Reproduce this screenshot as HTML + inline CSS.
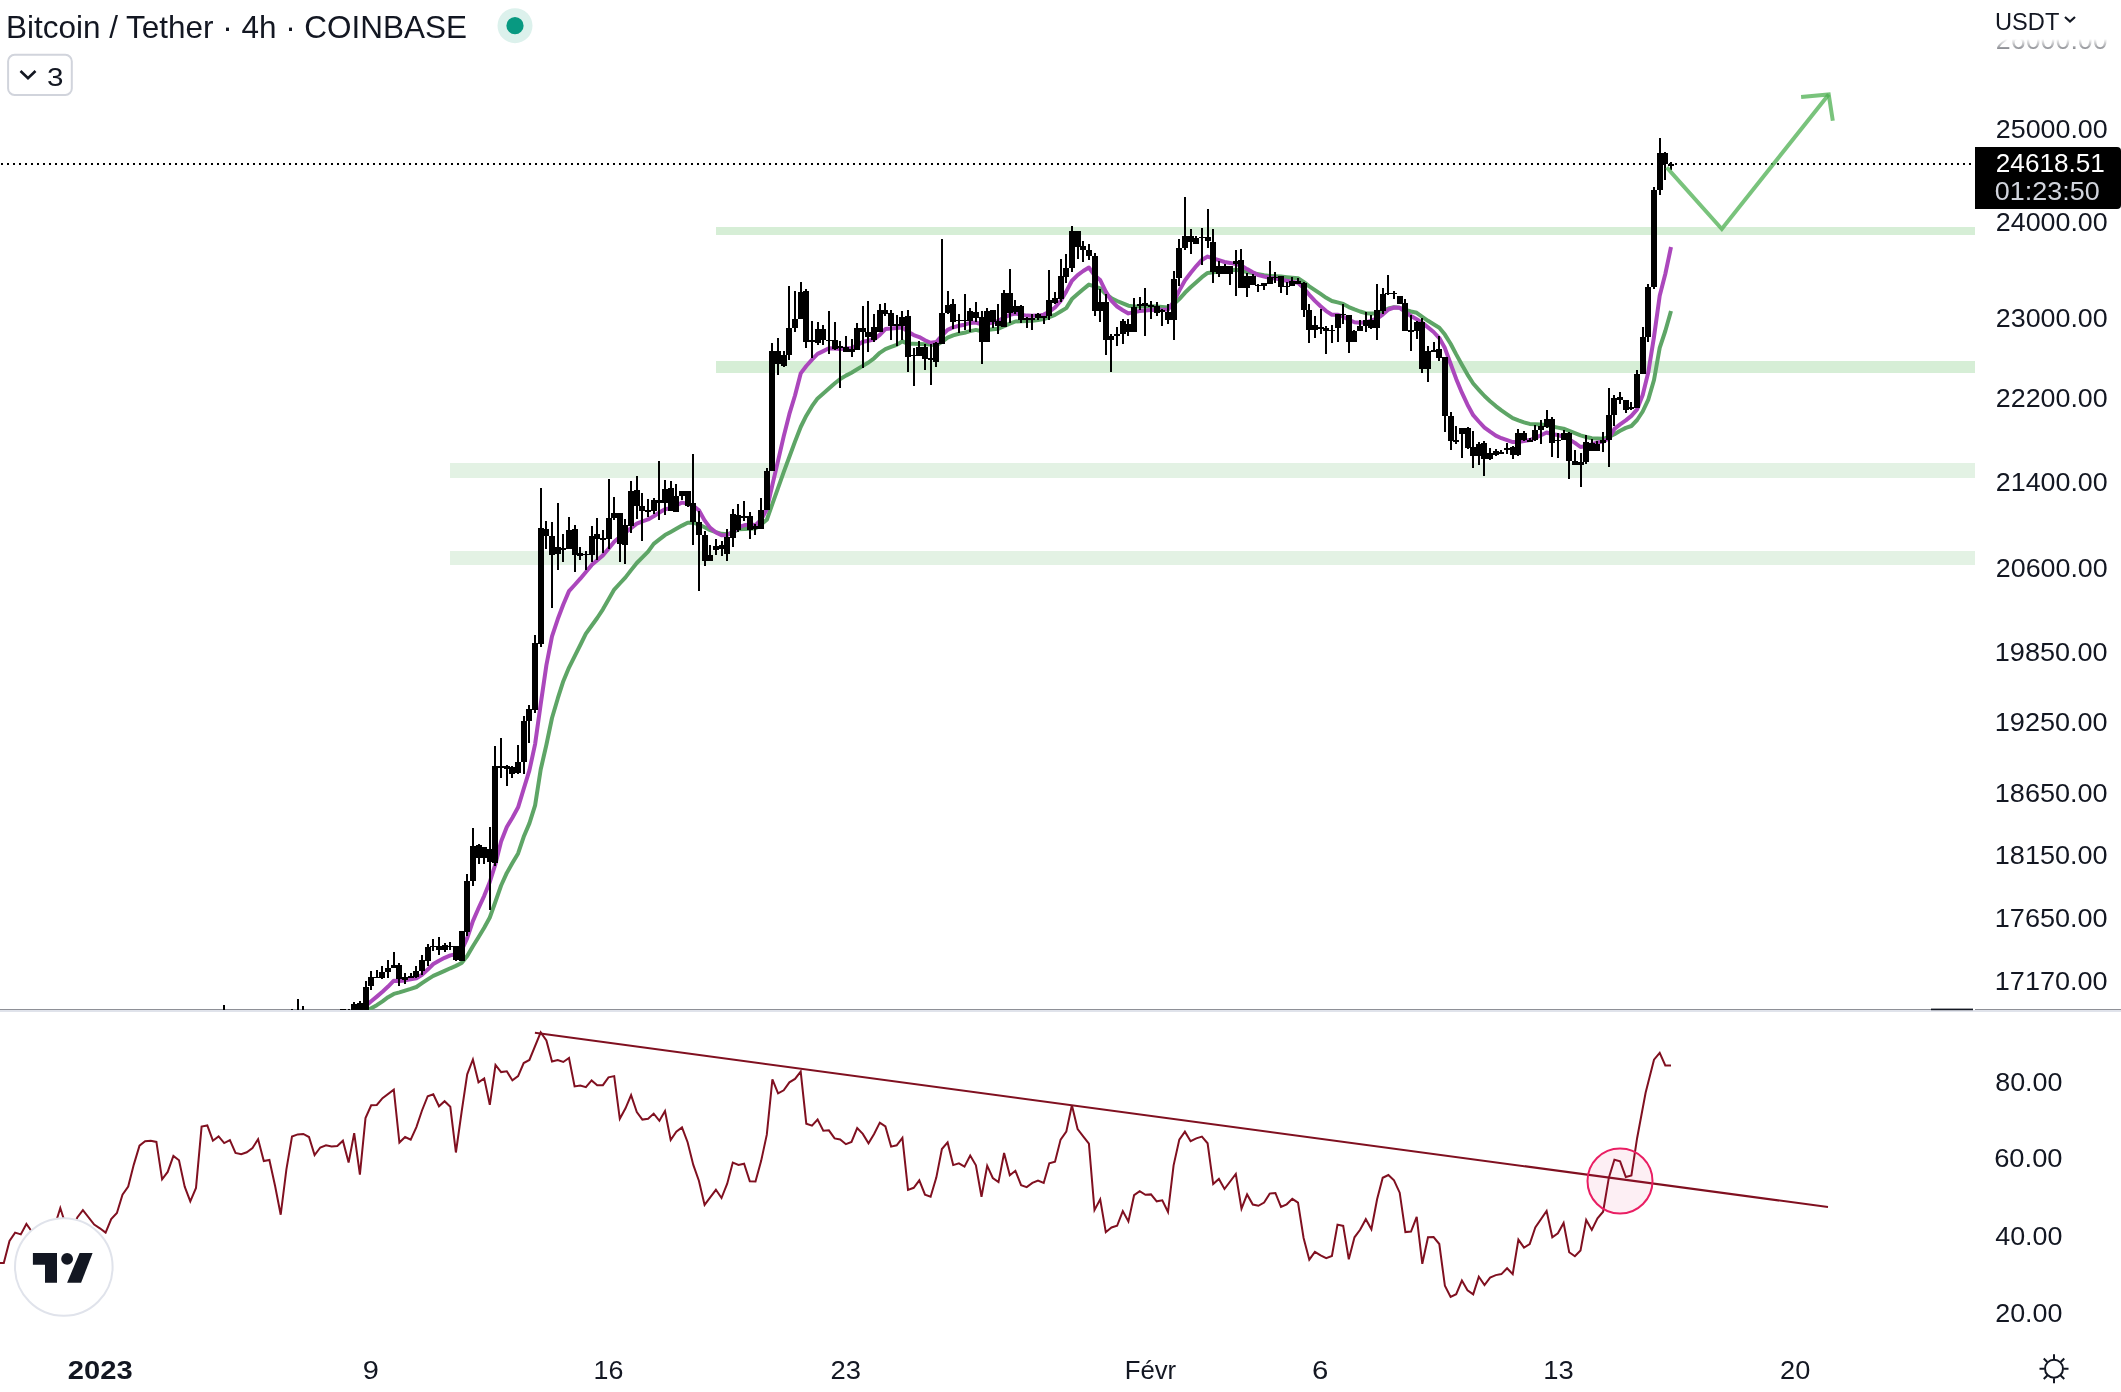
<!DOCTYPE html><html><head><meta charset="utf-8"><title>BTC/USDT</title><style>html,body{margin:0;padding:0;background:#ffffff;}body{width:2121px;height:1392px;overflow:hidden;position:relative;font-family:"Liberation Sans", sans-serif;}svg{position:absolute;left:0;top:0;display:block;will-change:transform;}</style></head><body><svg width="2121" height="1392" viewBox="0 0 2121 1392"><defs><clipPath id="cm"><rect x="0" y="0" width="1975" height="1010"/></clipPath><clipPath id="cr"><rect x="0" y="1012" width="1975" height="330"/></clipPath><linearGradient id="fade" x1="0" y1="0" x2="0" y2="1"><stop offset="0" stop-color="#fff" stop-opacity="1"/><stop offset="0.78" stop-color="#fff" stop-opacity="1"/><stop offset="1" stop-color="#fff" stop-opacity="0.45"/></linearGradient></defs><rect x="0" y="0" width="2121" height="1392" fill="#ffffff"/><rect x="0" y="1009" width="1973" height="1" fill="#8e9097"/><g clip-path="url(#cm)"><rect x="716" y="227" width="1259" height="8" fill="#d6eed6"/><rect x="716" y="361" width="1259" height="12" fill="#d6eed6"/><rect x="450" y="463" width="1525" height="15" fill="#e3f2e4"/><rect x="450" y="551" width="1525" height="14" fill="#e3f2e4"/><line x1="0" y1="164" x2="1975" y2="164" stroke="#000" stroke-width="2" stroke-dasharray="2 4" stroke-dashoffset="5" shape-rendering="crispEdges"/><polyline points="345.0,1028.0 348.6,1024.8 354.2,1019.7 359.9,1015.7 365.5,1011.8 371.2,1008.3 376.8,1005.2 382.5,1001.4 388.1,997.2 393.8,993.9 399.4,992.4 405.1,990.6 410.7,988.9 416.4,987.0 422.0,983.2 427.7,979.4 433.3,975.9 439.0,973.4 444.6,970.9 450.3,968.3 455.9,965.9 461.6,963.0 467.2,956.0 472.9,946.2 478.5,937.3 484.2,927.8 489.8,917.5 495.5,901.5 501.1,885.5 506.8,872.9 512.4,863.1 518.1,853.4 523.7,836.8 529.4,823.4 535.1,805.4 540.7,769.5 546.4,744.8 552.0,718.0 557.7,698.7 563.3,681.2 569.0,667.6 574.6,656.3 580.3,645.0 585.9,633.6 591.6,625.8 597.2,618.0 602.9,609.3 608.5,599.5 614.2,589.6 619.8,583.5 625.5,577.4 631.1,570.1 636.8,563.0 642.4,557.4 648.1,551.7 653.7,543.9 659.4,539.4 665.0,535.1 670.7,532.0 676.3,528.8 682.0,525.6 687.6,522.7 693.3,522.6 698.9,524.5 704.6,527.3 710.2,530.1 715.9,532.2 721.5,533.8 727.2,534.3 732.8,532.4 738.5,529.3 744.1,529.0 749.8,528.7 755.5,528.3 761.1,524.4 766.8,519.8 772.4,503.8 778.1,487.9 783.7,472.2 789.4,456.7 795.0,441.6 800.7,427.0 806.3,415.7 812.0,406.2 817.6,398.4 823.3,393.5 828.9,388.5 834.6,383.5 840.2,379.0 845.9,375.6 851.5,372.7 857.2,369.3 862.8,365.9 868.5,362.5 874.1,358.3 879.8,352.8 885.4,349.1 891.1,346.9 896.7,344.9 902.4,341.3 908.0,343.8 913.7,343.8 919.3,344.0 925.0,344.3 930.6,344.6 936.3,345.4 941.9,341.8 947.6,337.6 953.2,335.4 958.9,333.8 964.5,332.7 970.2,331.1 975.9,329.9 981.5,331.2 987.2,330.0 992.8,329.3 998.5,328.7 1004.1,326.2 1009.8,323.7 1015.4,321.5 1021.1,321.2 1026.7,320.9 1032.4,320.7 1038.0,320.0 1043.7,319.0 1049.3,317.2 1055.0,314.9 1060.6,311.5 1066.3,308.1 1071.9,299.1 1077.6,294.1 1083.2,289.3 1088.9,284.6 1094.5,286.3 1100.2,288.3 1105.8,294.0 1111.5,298.2 1117.1,301.0 1122.8,303.4 1128.4,305.7 1134.1,306.5 1139.7,306.5 1145.4,306.4 1151.0,306.3 1156.7,306.4 1162.3,306.9 1168.0,307.4 1173.6,304.2 1179.3,299.1 1184.9,292.8 1190.6,287.2 1196.3,282.2 1201.9,277.2 1207.6,272.9 1213.2,272.2 1218.9,271.5 1224.5,271.0 1230.2,270.4 1235.8,269.8 1241.5,270.7 1247.1,272.0 1252.8,273.1 1258.4,274.2 1264.1,275.3 1269.7,276.1 1275.4,276.3 1281.0,276.6 1286.7,277.2 1292.3,277.7 1298.0,278.2 1303.6,281.9 1309.3,286.3 1314.9,290.1 1320.6,293.9 1326.2,297.8 1331.9,301.0 1337.5,302.4 1343.2,303.9 1348.8,307.1 1354.5,309.4 1360.1,311.5 1365.8,313.2 1371.4,313.6 1377.1,313.2 1382.7,310.9 1388.4,308.5 1394.0,307.3 1399.7,307.8 1405.4,309.8 1411.0,311.5 1416.7,312.8 1422.3,316.8 1428.0,320.8 1433.6,324.3 1439.3,327.7 1444.9,334.6 1450.6,343.7 1456.2,354.4 1461.9,364.7 1467.5,374.6 1473.2,383.5 1478.8,389.8 1484.5,396.0 1490.1,401.2 1495.8,406.1 1501.4,410.4 1507.1,414.3 1512.7,418.1 1518.4,420.4 1524.0,422.4 1529.7,423.9 1535.3,424.2 1541.0,424.4 1546.6,425.3 1552.3,426.5 1557.9,427.6 1563.6,428.7 1569.2,430.9 1574.9,433.1 1580.5,435.4 1586.2,437.0 1591.8,438.3 1597.5,438.6 1603.1,438.8 1608.8,437.0 1614.4,434.2 1620.1,430.8 1625.8,427.9 1631.4,426.0 1637.1,420.0 1642.7,411.5 1648.4,399.3 1654.0,380.0 1659.7,347.8 1665.3,331.0 1671.0,311.0" fill="none" stroke="#5ea566" stroke-width="4" stroke-linejoin="round" stroke-linecap="butt"/><polyline points="345.0,1025.0 348.6,1021.8 354.2,1016.7 359.9,1011.5 365.5,1006.2 371.2,1001.3 376.8,996.6 382.5,991.7 388.1,986.6 393.8,980.7 399.4,981.1 405.1,980.4 410.7,979.4 416.4,978.3 422.0,974.8 427.7,969.6 433.3,964.0 439.0,960.7 444.6,957.8 450.3,955.4 455.9,954.3 461.6,950.4 467.2,938.1 472.9,921.1 478.5,908.2 484.2,895.8 489.8,882.0 495.5,863.8 501.1,841.6 506.8,827.1 512.4,817.7 518.1,807.3 523.7,788.8 529.4,770.4 535.1,744.1 540.7,704.1 546.4,665.1 552.0,636.4 557.7,619.3 563.3,604.5 569.0,591.1 574.6,585.0 580.3,578.7 585.9,571.9 591.6,565.1 597.2,560.2 602.9,555.4 608.5,548.8 614.2,541.7 619.8,536.9 625.5,532.5 631.1,528.1 636.8,523.7 642.4,521.3 648.1,519.4 653.7,516.2 659.4,512.5 665.0,509.2 670.7,508.1 676.3,505.6 682.0,502.6 687.6,503.6 693.3,505.8 698.9,510.2 704.6,520.4 710.2,527.9 715.9,532.4 721.5,535.2 727.2,535.1 732.8,532.1 738.5,527.0 744.1,525.3 749.8,524.4 755.5,525.1 761.1,519.8 766.8,509.4 772.4,484.7 778.1,460.6 783.7,436.4 789.4,413.9 795.0,395.5 800.7,373.4 806.3,366.0 812.0,359.7 817.6,353.9 823.3,351.1 828.9,348.2 834.6,348.5 840.2,348.9 845.9,348.6 851.5,347.9 857.2,345.4 862.8,341.8 868.5,340.7 874.1,339.3 879.8,334.9 885.4,329.1 891.1,328.6 896.7,328.0 902.4,327.4 908.0,331.8 913.7,335.1 919.3,337.1 925.0,340.2 930.6,342.8 936.3,342.0 941.9,335.6 947.6,329.9 953.2,327.4 958.9,325.8 964.5,324.7 970.2,322.9 975.9,322.5 981.5,324.4 987.2,323.8 992.8,322.5 998.5,320.8 1004.1,317.6 1009.8,314.9 1015.4,313.5 1021.1,314.6 1026.7,315.6 1032.4,315.8 1038.0,315.6 1043.7,314.6 1049.3,311.7 1055.0,307.5 1060.6,301.0 1066.3,291.4 1071.9,280.7 1077.6,275.1 1083.2,271.0 1088.9,267.5 1094.5,275.3 1100.2,280.0 1105.8,291.6 1111.5,300.9 1117.1,306.5 1122.8,310.2 1128.4,313.4 1134.1,312.1 1139.7,311.0 1145.4,310.4 1151.0,310.0 1156.7,309.9 1162.3,309.8 1168.0,309.6 1173.6,302.0 1179.3,290.6 1184.9,280.5 1190.6,273.0 1196.3,266.1 1201.9,259.9 1207.6,256.6 1213.2,258.3 1218.9,260.2 1224.5,262.0 1230.2,262.9 1235.8,264.1 1241.5,265.6 1247.1,269.1 1252.8,272.3 1258.4,275.1 1264.1,276.5 1269.7,277.7 1275.4,278.6 1281.0,279.6 1286.7,280.8 1292.3,281.8 1298.0,282.7 1303.6,288.1 1309.3,294.8 1314.9,300.9 1320.6,306.3 1326.2,311.1 1331.9,314.7 1337.5,314.7 1343.2,316.7 1348.8,319.7 1354.5,322.3 1360.1,322.8 1365.8,322.3 1371.4,320.6 1377.1,318.5 1382.7,314.5 1388.4,309.5 1394.0,307.5 1399.7,307.8 1405.4,312.0 1411.0,316.0 1416.7,319.2 1422.3,322.9 1428.0,327.4 1433.6,332.0 1439.3,338.1 1444.9,348.1 1450.6,363.8 1456.2,378.9 1461.9,392.7 1467.5,404.7 1473.2,415.2 1478.8,421.5 1484.5,427.6 1490.1,431.7 1495.8,435.6 1501.4,438.2 1507.1,440.2 1512.7,442.1 1518.4,441.9 1524.0,441.1 1529.7,440.0 1535.3,437.9 1541.0,435.3 1546.6,432.5 1552.3,434.2 1557.9,435.0 1563.6,436.8 1569.2,439.4 1574.9,442.9 1580.5,447.0 1586.2,446.1 1591.8,444.4 1597.5,442.5 1603.1,441.6 1608.8,438.5 1614.4,428.9 1620.1,424.4 1625.8,420.4 1631.4,415.9 1637.1,409.4 1642.7,395.0 1648.4,371.7 1654.0,336.9 1659.7,295.8 1665.3,274.0 1671.0,247.0" fill="none" stroke="#ab47bc" stroke-width="4" stroke-linejoin="round" stroke-linecap="butt"/><path d="M221,1011h6v19h-6zM223,1005h2v6h-2zM289,1011h6v19h-6zM291,1009h2v2h-2zM295,1011h6v19h-6zM297,999h2v12h-2zM300,1011h6v19h-6zM302,1006h2v5h-2zM334,1011h6v19h-6zM340,1009h6v21h-6zM346,1011h6v19h-6zM348,1009h2v2h-2zM351,1004h6v26h-6zM353,1002h2v2h-2zM357,1003h6v27h-6zM359,1001h2v2h-2zM363,987h6v43h-6zM365,981h2v6h-2zM368,977h6v9h-6zM370,971h2v6h-2zM370,986h2v4h-2zM374,977h6v1h-6zM376,970h2v7h-2zM379,972h6v6h-6zM381,966h2v6h-2zM381,978h2v1h-2zM385,968h6v4h-6zM387,960h2v8h-2zM387,972h2v6h-2zM391,965h6v3h-6zM393,952h2v13h-2zM396,965h6v14h-6zM398,963h2v2h-2zM398,979h2v7h-2zM402,977h6v3h-6zM404,973h2v4h-2zM404,980h2v4h-2zM408,976h6v2h-6zM410,973h2v3h-2zM413,971h6v6h-6zM415,966h2v5h-2zM415,977h2v1h-2zM419,960h6v11h-6zM421,955h2v5h-2zM421,971h2v4h-2zM425,947h6v14h-6zM427,944h2v3h-2zM427,961h2v5h-2zM430,946h6v1h-6zM432,939h2v7h-2zM432,947h2v4h-2zM436,946h6v4h-6zM438,937h2v9h-2zM438,950h2v5h-2zM442,945h6v5h-6zM444,943h2v2h-2zM444,950h2v2h-2zM447,946h6v1h-6zM449,942h2v4h-2zM449,947h2v3h-2zM453,946h6v14h-6zM455,960h2v1h-2zM459,931h6v30h-6zM464,881h6v51h-6zM466,874h2v7h-2zM466,932h2v4h-2zM470,846h6v35h-6zM472,828h2v18h-2zM472,881h2v5h-2zM476,845h6v13h-6zM478,844h2v1h-2zM478,858h2v6h-2zM481,847h6v11h-6zM483,858h2v6h-2zM487,849h6v13h-6zM489,827h2v22h-2zM489,862h2v48h-2zM492,766h6v97h-6zM494,746h2v20h-2zM494,863h2v3h-2zM498,766h6v2h-6zM500,738h2v28h-2zM500,768h2v10h-2zM504,766h6v3h-6zM506,765h2v1h-2zM506,769h2v17h-2zM509,767h6v7h-6zM511,766h2v1h-2zM511,774h2v4h-2zM515,762h6v11h-6zM517,745h2v17h-2zM517,773h2v1h-2zM521,721h6v41h-6zM523,716h2v5h-2zM523,762h2v12h-2zM526,709h6v12h-6zM528,705h2v4h-2zM528,721h2v22h-2zM532,643h6v67h-6zM534,635h2v8h-2zM534,710h2v3h-2zM538,528h6v116h-6zM540,488h2v40h-2zM540,644h2v3h-2zM543,529h6v7h-6zM545,521h2v8h-2zM545,536h2v13h-2zM549,536h6v19h-6zM551,522h2v14h-2zM551,555h2v53h-2zM555,547h6v7h-6zM557,503h2v44h-2zM557,554h2v16h-2zM560,548h6v2h-6zM562,534h2v14h-2zM562,550h2v12h-2zM566,530h6v19h-6zM568,517h2v13h-2zM572,529h6v26h-6zM574,525h2v4h-2zM574,555h2v17h-2zM577,553h6v3h-6zM579,547h2v6h-2zM579,556h2v4h-2zM583,554h6v1h-6zM585,551h2v3h-2zM585,555h2v15h-2zM589,536h6v19h-6zM591,526h2v10h-2zM591,555h2v7h-2zM594,534h6v5h-6zM596,518h2v16h-2zM596,539h2v21h-2zM600,538h6v2h-6zM602,530h2v8h-2zM602,540h2v13h-2zM606,518h6v21h-6zM608,479h2v39h-2zM608,539h2v10h-2zM611,513h6v5h-6zM613,497h2v16h-2zM613,518h2v2h-2zM617,513h6v31h-6zM619,544h2v18h-2zM622,525h6v20h-6zM624,519h2v6h-2zM624,545h2v19h-2zM628,491h6v35h-6zM630,481h2v10h-2zM630,526h2v7h-2zM634,490h6v16h-6zM636,476h2v14h-2zM636,506h2v13h-2zM639,506h6v5h-6zM641,493h2v13h-2zM641,511h2v30h-2zM645,510h6v2h-6zM647,499h2v11h-2zM647,512h2v5h-2zM651,500h6v11h-6zM653,498h2v2h-2zM653,511h2v3h-2zM656,500h6v3h-6zM658,461h2v39h-2zM658,503h2v17h-2zM662,489h6v14h-6zM664,480h2v9h-2zM664,503h2v12h-2zM668,488h6v23h-6zM670,481h2v7h-2zM673,496h6v16h-6zM675,484h2v12h-2zM679,491h6v5h-6zM681,496h2v4h-2zM685,491h6v15h-6zM687,506h2v1h-2zM690,503h6v19h-6zM692,454h2v49h-2zM692,522h2v23h-2zM696,522h6v13h-6zM698,511h2v11h-2zM698,535h2v56h-2zM702,535h6v26h-6zM704,531h2v4h-2zM704,561h2v5h-2zM707,555h6v6h-6zM709,545h2v10h-2zM713,546h6v4h-6zM715,539h2v7h-2zM715,550h2v5h-2zM719,545h6v4h-6zM721,541h2v4h-2zM721,549h2v7h-2zM724,537h6v17h-6zM726,529h2v8h-2zM726,554h2v7h-2zM730,514h6v24h-6zM732,509h2v5h-2zM732,538h2v9h-2zM735,515h6v15h-6zM737,504h2v11h-2zM737,530h2v2h-2zM741,516h6v2h-6zM743,501h2v15h-2zM743,518h2v3h-2zM747,516h6v14h-6zM749,512h2v4h-2zM749,530h2v9h-2zM752,526h6v3h-6zM754,524h2v2h-2zM754,529h2v6h-2zM758,510h6v19h-6zM760,498h2v12h-2zM764,471h6v39h-6zM766,468h2v3h-2zM769,351h6v120h-6zM771,343h2v8h-2zM775,351h6v13h-6zM777,338h2v13h-2zM777,364h2v11h-2zM781,355h6v11h-6zM783,351h2v4h-2zM783,366h2v1h-2zM786,328h6v27h-6zM788,286h2v42h-2zM788,355h2v5h-2zM792,319h6v9h-6zM794,291h2v28h-2zM794,328h2v4h-2zM798,292h6v27h-6zM800,282h2v10h-2zM803,291h6v51h-6zM805,289h2v2h-2zM805,342h2v6h-2zM809,340h6v2h-6zM811,321h2v19h-2zM811,342h2v16h-2zM815,329h6v14h-6zM817,322h2v7h-2zM817,343h2v2h-2zM820,329h6v11h-6zM822,325h2v4h-2zM822,340h2v5h-2zM826,340h6v1h-6zM828,311h2v29h-2zM828,341h2v13h-2zM832,340h6v9h-6zM834,322h2v18h-2zM834,349h2v1h-2zM837,346h6v2h-6zM839,341h2v5h-2zM839,348h2v40h-2zM843,347h6v5h-6zM845,336h2v11h-2zM849,349h6v3h-6zM851,339h2v10h-2zM851,352h2v5h-2zM854,328h6v22h-6zM856,323h2v5h-2zM860,328h6v4h-6zM862,306h2v22h-2zM862,332h2v36h-2zM865,332h6v5h-6zM867,301h2v31h-2zM867,337h2v15h-2zM871,327h6v13h-6zM873,314h2v13h-2zM873,340h2v2h-2zM877,310h6v22h-6zM879,304h2v6h-2zM882,310h6v4h-6zM884,303h2v7h-2zM884,314h2v2h-2zM888,313h6v13h-6zM890,310h2v3h-2zM890,326h2v14h-2zM894,324h6v2h-6zM896,315h2v9h-2zM896,326h2v20h-2zM899,317h6v9h-6zM901,311h2v6h-2zM901,326h2v14h-2zM905,316h6v41h-6zM907,310h2v6h-2zM907,357h2v15h-2zM911,355h6v1h-6zM913,348h2v7h-2zM913,356h2v30h-2zM916,347h6v9h-6zM918,341h2v6h-2zM922,347h6v12h-6zM924,344h2v3h-2zM924,359h2v11h-2zM928,358h6v2h-6zM930,344h2v14h-2zM930,360h2v25h-2zM933,343h6v19h-6zM935,342h2v1h-2zM935,362h2v5h-2zM939,313h6v31h-6zM941,239h2v74h-2zM945,305h6v8h-6zM947,291h2v14h-2zM947,313h2v1h-2zM950,304h6v18h-6zM952,299h2v5h-2zM952,322h2v7h-2zM956,320h6v1h-6zM958,314h2v6h-2zM958,321h2v12h-2zM962,320h6v1h-6zM964,294h2v26h-2zM964,321h2v9h-2zM967,311h6v10h-6zM969,308h2v3h-2zM969,321h2v11h-2zM973,312h6v6h-6zM975,302h2v10h-2zM975,318h2v4h-2zM979,317h6v25h-6zM981,311h2v6h-2zM981,342h2v22h-2zM984,311h6v31h-6zM986,308h2v3h-2zM990,310h6v12h-6zM992,322h2v6h-2zM995,321h6v5h-6zM997,304h2v17h-2zM997,326h2v8h-2zM1001,293h6v34h-6zM1003,290h2v3h-2zM1007,293h6v20h-6zM1009,269h2v24h-2zM1009,313h2v10h-2zM1012,306h6v6h-6zM1014,300h2v6h-2zM1014,312h2v2h-2zM1018,306h6v14h-6zM1020,305h2v1h-2zM1020,320h2v3h-2zM1024,318h6v2h-6zM1026,317h2v1h-2zM1026,320h2v8h-2zM1029,318h6v2h-6zM1031,314h2v4h-2zM1031,320h2v10h-2zM1035,314h6v4h-6zM1037,313h2v1h-2zM1037,318h2v2h-2zM1041,316h6v2h-6zM1043,318h2v6h-2zM1046,300h6v16h-6zM1048,270h2v30h-2zM1048,316h2v4h-2zM1052,298h6v5h-6zM1054,292h2v6h-2zM1054,303h2v1h-2zM1058,276h6v23h-6zM1060,259h2v17h-2zM1060,299h2v3h-2zM1063,268h6v9h-6zM1065,254h2v14h-2zM1065,277h2v6h-2zM1069,231h6v37h-6zM1071,226h2v5h-2zM1071,268h2v4h-2zM1075,231h6v16h-6zM1077,247h2v12h-2zM1080,246h6v4h-6zM1082,241h2v5h-2zM1082,250h2v12h-2zM1086,250h6v6h-6zM1088,244h2v6h-2zM1088,256h2v4h-2zM1092,256h6v55h-6zM1094,253h2v3h-2zM1094,311h2v5h-2zM1097,302h6v9h-6zM1099,289h2v13h-2zM1099,311h2v11h-2zM1103,302h6v38h-6zM1105,294h2v8h-2zM1105,340h2v15h-2zM1108,336h6v4h-6zM1110,334h2v2h-2zM1110,340h2v32h-2zM1114,334h6v2h-6zM1116,327h2v7h-2zM1116,336h2v10h-2zM1120,321h6v13h-6zM1122,319h2v2h-2zM1122,334h2v10h-2zM1125,324h6v8h-6zM1127,319h2v5h-2zM1127,332h2v4h-2zM1131,307h6v25h-6zM1133,298h2v9h-2zM1137,304h6v2h-6zM1139,297h2v7h-2zM1139,306h2v4h-2zM1142,303h6v3h-6zM1144,288h2v15h-2zM1144,306h2v30h-2zM1148,305h6v2h-6zM1150,301h2v4h-2zM1150,307h2v12h-2zM1154,306h6v7h-6zM1156,302h2v4h-2zM1156,313h2v3h-2zM1159,310h6v2h-6zM1161,309h2v1h-2zM1161,312h2v14h-2zM1165,312h6v8h-6zM1167,304h2v8h-2zM1167,320h2v4h-2zM1171,279h6v41h-6zM1173,271h2v8h-2zM1173,320h2v20h-2zM1176,248h6v30h-6zM1178,239h2v9h-2zM1178,278h2v8h-2zM1182,236h6v12h-6zM1184,197h2v39h-2zM1184,248h2v2h-2zM1188,236h6v6h-6zM1190,229h2v7h-2zM1190,242h2v12h-2zM1193,238h6v6h-6zM1195,236h2v2h-2zM1199,237h6v1h-6zM1201,228h2v9h-2zM1201,238h2v27h-2zM1205,237h6v4h-6zM1207,209h2v28h-2zM1207,241h2v7h-2zM1210,242h6v30h-6zM1212,229h2v13h-2zM1212,272h2v11h-2zM1216,266h6v8h-6zM1218,261h2v5h-2zM1218,274h2v3h-2zM1222,266h6v8h-6zM1224,264h2v2h-2zM1227,266h6v8h-6zM1229,274h2v11h-2zM1233,261h6v3h-6zM1235,250h2v11h-2zM1235,264h2v32h-2zM1238,260h6v28h-6zM1240,249h2v11h-2zM1244,276h6v12h-6zM1246,273h2v3h-2zM1246,288h2v9h-2zM1250,276h6v9h-6zM1252,274h2v2h-2zM1255,285h6v1h-6zM1257,284h2v1h-2zM1257,286h2v6h-2zM1261,283h6v3h-6zM1263,286h2v4h-2zM1267,277h6v7h-6zM1269,261h2v16h-2zM1272,277h6v1h-6zM1274,272h2v5h-2zM1274,278h2v5h-2zM1278,276h6v11h-6zM1280,287h2v6h-2zM1284,286h6v1h-6zM1286,282h2v4h-2zM1286,287h2v8h-2zM1289,281h6v5h-6zM1291,277h2v4h-2zM1295,281h6v3h-6zM1297,278h2v3h-2zM1301,283h6v27h-6zM1303,282h2v1h-2zM1303,310h2v7h-2zM1306,310h6v20h-6zM1308,304h2v6h-2zM1308,330h2v13h-2zM1312,325h6v5h-6zM1314,316h2v9h-2zM1314,330h2v8h-2zM1318,327h6v2h-6zM1320,309h2v18h-2zM1320,329h2v5h-2zM1323,328h6v3h-6zM1325,326h2v2h-2zM1325,331h2v23h-2zM1329,330h6v1h-6zM1331,325h2v5h-2zM1331,331h2v12h-2zM1335,314h6v14h-6zM1337,328h2v14h-2zM1340,314h6v1h-6zM1342,304h2v10h-2zM1342,315h2v9h-2zM1346,315h6v27h-6zM1348,342h2v11h-2zM1351,331h6v11h-6zM1353,330h2v1h-2zM1357,326h6v5h-6zM1359,320h2v6h-2zM1363,320h6v6h-6zM1365,312h2v8h-2zM1365,326h2v6h-2zM1368,320h6v8h-6zM1370,315h2v5h-2zM1370,328h2v1h-2zM1374,310h6v18h-6zM1376,284h2v26h-2zM1376,328h2v12h-2zM1380,294h6v17h-6zM1382,288h2v6h-2zM1382,311h2v3h-2zM1385,293h6v1h-6zM1387,275h2v18h-2zM1387,294h2v1h-2zM1391,293h6v1h-6zM1393,291h2v2h-2zM1393,294h2v5h-2zM1397,296h6v8h-6zM1402,303h6v28h-6zM1404,299h2v4h-2zM1408,330h6v2h-6zM1410,315h2v15h-2zM1410,332h2v19h-2zM1414,322h6v9h-6zM1416,321h2v1h-2zM1416,331h2v8h-2zM1419,322h6v47h-6zM1421,318h2v4h-2zM1421,369h2v4h-2zM1425,351h6v18h-6zM1427,346h2v5h-2zM1427,369h2v13h-2zM1431,350h6v2h-6zM1433,342h2v8h-2zM1436,349h6v9h-6zM1438,336h2v13h-2zM1438,358h2v3h-2zM1442,357h6v59h-6zM1444,416h2v16h-2zM1448,416h6v25h-6zM1450,412h2v4h-2zM1450,441h2v9h-2zM1453,440h6v2h-6zM1455,426h2v14h-2zM1455,442h2v2h-2zM1459,428h6v6h-6zM1461,434h2v24h-2zM1465,428h6v20h-6zM1467,427h2v1h-2zM1467,448h2v1h-2zM1470,447h6v9h-6zM1472,431h2v16h-2zM1472,456h2v12h-2zM1476,444h6v12h-6zM1478,442h2v2h-2zM1478,456h2v9h-2zM1481,443h6v16h-6zM1483,441h2v2h-2zM1483,459h2v17h-2zM1487,453h6v6h-6zM1489,448h2v5h-2zM1489,459h2v1h-2zM1493,451h6v4h-6zM1495,449h2v2h-2zM1495,455h2v1h-2zM1498,452h6v2h-6zM1500,450h2v2h-2zM1504,448h6v2h-6zM1506,443h2v5h-2zM1506,450h2v4h-2zM1510,447h6v8h-6zM1512,446h2v1h-2zM1512,455h2v4h-2zM1515,433h6v22h-6zM1517,429h2v4h-2zM1517,455h2v1h-2zM1521,433h6v7h-6zM1523,431h2v2h-2zM1523,440h2v1h-2zM1527,440h6v2h-6zM1529,438h2v2h-2zM1532,430h6v10h-6zM1534,425h2v5h-2zM1534,440h2v1h-2zM1538,426h6v4h-6zM1540,420h2v6h-2zM1540,430h2v14h-2zM1544,419h6v8h-6zM1546,410h2v9h-2zM1546,427h2v1h-2zM1549,419h6v24h-6zM1551,417h2v2h-2zM1551,443h2v14h-2zM1555,440h6v1h-6zM1557,433h2v7h-2zM1557,441h2v17h-2zM1561,433h6v7h-6zM1563,430h2v3h-2zM1566,433h6v28h-6zM1568,432h2v1h-2zM1568,461h2v18h-2zM1572,461h6v4h-6zM1574,450h2v11h-2zM1578,462h6v3h-6zM1580,453h2v9h-2zM1580,465h2v22h-2zM1583,442h6v20h-6zM1585,435h2v7h-2zM1585,462h2v2h-2zM1589,443h6v8h-6zM1591,439h2v4h-2zM1594,444h6v7h-6zM1596,441h2v3h-2zM1600,440h6v3h-6zM1602,432h2v8h-2zM1602,443h2v9h-2zM1606,415h6v25h-6zM1608,388h2v27h-2zM1608,440h2v27h-2zM1611,398h6v17h-6zM1613,395h2v3h-2zM1613,415h2v11h-2zM1617,397h6v3h-6zM1619,392h2v5h-2zM1619,400h2v4h-2zM1623,400h6v10h-6zM1625,410h2v3h-2zM1628,407h6v2h-6zM1630,402h2v5h-2zM1630,409h2v1h-2zM1634,374h6v34h-6zM1636,370h2v4h-2zM1640,337h6v37h-6zM1642,327h2v10h-2zM1645,287h6v50h-6zM1647,284h2v3h-2zM1647,337h2v5h-2zM1651,190h6v97h-6zM1653,187h2v3h-2zM1653,287h2v2h-2zM1657,153h6v37h-6zM1659,138h2v15h-2zM1659,190h2v5h-2zM1662,153h6v11h-6zM1664,152h2v1h-2zM1664,164h2v16h-2zM1668,164h6v2h-6zM1670,162h2v2h-2zM1670,166h2v4h-2z" fill="#000" shape-rendering="crispEdges"/><polyline points="1666.7,167.4 1721.8,229 1828.7,94.4" fill="none" stroke="#4caf50" stroke-opacity="0.75" stroke-width="4" stroke-linejoin="miter"/><polyline points="1801.1,97 1828.7,94.4 1832.8,120.8" fill="none" stroke="#4caf50" stroke-opacity="0.75" stroke-width="4" stroke-linejoin="miter"/></g><rect x="0" y="1010" width="2121" height="2" fill="#e0e3eb"/><rect x="1975" y="1009" width="146" height="1" fill="#8e9097"/><rect x="1931" y="1008.6" width="42" height="1.6" fill="#131722"/><g clip-path="url(#cr)"><line x1="534.9" y1="1032.8" x2="1828" y2="1207.1" stroke="#801020" stroke-width="2"/><polyline points="-1.8,1263.0 3.8,1263.0 9.5,1241.0 15.1,1232.6 20.8,1234.4 26.4,1224.0 32.1,1232.0 37.7,1240.0 43.4,1238.0 49.0,1236.0 54.7,1226.0 60.3,1208.0 66.0,1226.0 71.6,1232.0 77.3,1217.5 82.9,1210.2 94.2,1224.6 99.9,1228.3 105.6,1232.6 111.2,1219.1 116.9,1213.0 122.5,1194.6 128.2,1186.6 133.8,1164.6 139.5,1145.6 145.1,1141.3 150.8,1140.7 156.4,1141.9 162.1,1179.3 167.7,1171.9 173.4,1156.0 179.0,1160.3 184.7,1186.6 190.3,1201.4 196.0,1187.9 201.6,1126.6 207.3,1125.4 212.9,1140.7 218.6,1136.4 224.2,1143.1 229.9,1140.1 235.5,1152.9 241.2,1154.2 246.8,1152.3 252.5,1148.0 258.1,1139.2 263.8,1161.1 269.4,1160.0 275.1,1186.0 280.7,1214.7 286.4,1169.4 292.0,1136.5 297.7,1134.4 303.3,1133.9 309.0,1137.0 314.6,1155.0 320.3,1147.5 326.0,1145.2 331.6,1146.5 337.3,1146.0 342.9,1140.7 348.6,1162.6 354.2,1133.2 359.9,1174.7 365.5,1118.1 371.2,1105.3 376.8,1105.0 382.5,1098.2 393.8,1089.7 399.4,1142.5 405.1,1137.0 410.7,1139.7 416.4,1127.1 422.0,1110.5 427.7,1096.2 433.3,1094.2 439.0,1106.3 444.6,1101.2 450.3,1106.8 455.9,1152.5 461.6,1112.0 467.2,1074.3 472.9,1059.5 478.5,1082.3 484.2,1078.4 489.8,1104.8 495.5,1065.0 501.1,1072.1 506.8,1071.3 512.4,1080.4 518.1,1076.1 523.7,1063.0 529.4,1060.0 540.7,1032.4 546.4,1040.4 552.0,1061.5 557.7,1060.0 563.3,1062.0 569.0,1058.0 574.6,1086.4 580.3,1085.6 585.9,1087.1 591.6,1080.4 597.2,1085.3 602.9,1085.2 608.5,1077.3 614.2,1076.1 619.8,1118.8 625.5,1108.3 631.1,1095.1 636.8,1112.0 642.4,1119.6 648.1,1118.8 653.7,1113.6 659.4,1120.8 665.0,1111.0 670.7,1140.0 676.3,1131.7 682.0,1127.4 687.6,1142.2 693.3,1164.9 698.9,1180.7 704.6,1204.9 710.2,1197.3 715.9,1189.8 721.5,1198.0 727.2,1183.7 732.8,1162.6 738.5,1164.9 744.1,1163.7 749.8,1181.2 755.5,1181.5 761.1,1161.1 766.8,1134.7 772.4,1079.3 778.1,1093.4 783.7,1090.3 789.4,1082.3 795.0,1078.9 800.7,1071.6 806.3,1123.7 812.0,1125.7 817.6,1119.6 823.3,1130.8 828.9,1130.3 834.6,1138.4 840.2,1139.4 845.9,1144.2 851.5,1141.9 857.2,1128.1 862.8,1133.9 868.5,1143.2 874.1,1133.9 879.8,1122.6 885.4,1126.4 891.1,1146.6 896.7,1145.3 902.4,1137.8 908.0,1189.9 913.7,1187.8 919.3,1180.3 925.0,1194.7 930.6,1196.7 936.3,1177.6 941.9,1149.0 947.6,1142.4 953.2,1165.1 958.9,1163.3 964.5,1166.7 970.2,1155.5 975.9,1165.3 981.5,1196.7 987.2,1165.7 992.8,1178.0 998.5,1182.1 1004.1,1153.0 1009.8,1175.3 1015.4,1170.8 1021.1,1185.2 1026.7,1187.1 1032.4,1182.9 1038.0,1180.5 1043.7,1182.9 1049.3,1163.3 1055.0,1161.7 1060.6,1139.6 1066.3,1131.7 1071.9,1105.3 1077.6,1129.0 1083.2,1136.3 1088.9,1143.6 1094.5,1210.1 1100.2,1199.3 1105.8,1232.2 1111.5,1227.5 1117.1,1225.8 1122.8,1211.1 1128.4,1221.4 1134.1,1195.2 1139.7,1191.1 1145.4,1194.8 1151.0,1194.4 1156.7,1201.3 1162.3,1200.3 1168.0,1212.0 1173.6,1165.4 1179.3,1139.6 1184.9,1131.7 1190.6,1141.2 1196.3,1138.4 1201.9,1136.6 1207.6,1143.3 1213.2,1184.1 1218.9,1178.9 1224.5,1189.0 1235.8,1174.0 1241.5,1208.7 1247.1,1194.4 1252.8,1204.6 1258.4,1205.8 1264.1,1202.5 1269.7,1193.6 1275.4,1193.0 1281.0,1206.9 1286.7,1204.3 1292.3,1198.8 1298.0,1202.7 1303.6,1238.0 1309.3,1259.7 1314.9,1251.8 1320.6,1255.4 1326.2,1258.2 1331.9,1256.0 1337.5,1224.6 1343.2,1225.9 1348.8,1259.3 1354.5,1237.3 1360.1,1229.8 1365.8,1219.2 1371.4,1229.3 1377.1,1199.2 1382.7,1177.8 1388.4,1175.0 1394.0,1180.4 1399.7,1192.7 1405.4,1232.1 1411.0,1231.5 1416.7,1216.9 1422.3,1263.8 1428.0,1237.3 1433.6,1237.0 1439.3,1244.0 1444.9,1285.8 1450.6,1297.0 1456.2,1294.2 1461.9,1280.6 1467.5,1290.3 1473.2,1294.4 1478.8,1276.7 1484.5,1285.1 1490.1,1277.6 1495.8,1275.1 1501.4,1274.1 1507.1,1268.3 1512.7,1274.1 1518.4,1239.6 1524.0,1247.6 1529.7,1244.0 1535.3,1227.4 1546.6,1210.9 1552.3,1237.3 1557.9,1233.2 1563.6,1223.0 1569.2,1252.2 1574.9,1256.3 1580.5,1250.5 1586.2,1220.0 1591.8,1229.9 1597.5,1218.3 1603.1,1211.7 1608.8,1177.9 1614.4,1159.7 1620.1,1161.3 1625.8,1177.0 1631.4,1175.4 1637.1,1138.2 1645.6,1092.8 1654.0,1059.7 1659.7,1052.8 1665.3,1065.5 1671.0,1065.5" fill="none" stroke="#801020" stroke-width="2" stroke-linejoin="miter" stroke-miterlimit="4"/><circle cx="1620" cy="1181" r="32.5" fill="#e91e63" fill-opacity="0.07" stroke="#e91e63" stroke-width="2"/></g><circle cx="63.8" cy="1267" r="48.8" fill="#fff" stroke="#e0e3eb" stroke-width="2"/><g fill="#131722"><path d="M32.9,1253H57V1282.8H45V1264.8H32.9Z"/><circle cx="67.1" cy="1258.9" r="5.9"/><path d="M79.6,1253H92.6L81.1,1282.8H67.1Z"/></g><circle cx="515" cy="25.7" r="17.5" fill="#dcf1ec"/><circle cx="515" cy="25.7" r="8.6" fill="#089981"/><rect x="8.1" y="54.8" width="63.7" height="40.1" rx="6.5" fill="#fff" stroke="#d1d4dc" stroke-width="2"/><polyline points="20.5,71 28,78.3 35.5,71" fill="none" stroke="#131722" stroke-width="2.6"/><path d="M1975,147 H2117 Q2121,147 2121,151 V205 Q2121,209 2117,209 H1975 Z" fill="#000"/><text x="1995.80" y="48.75" font-family='"Liberation Sans", sans-serif' font-size="25" fill="#131722" textLength="111.88" lengthAdjust="spacingAndGlyphs">26000.00</text><rect x="1975" y="0" width="146" height="50" fill="url(#fade)"/><text x="6.00" y="37.90" font-family='"Liberation Sans", sans-serif' font-size="32" fill="#131722" textLength="460.92" lengthAdjust="spacingAndGlyphs">Bitcoin / Tether · 4h · COINBASE</text><text x="47.10" y="86.00" font-family='"Liberation Sans", sans-serif' font-size="26" fill="#131722" textLength="16.47" lengthAdjust="spacingAndGlyphs">3</text><text x="1995.00" y="30.00" font-family='"Liberation Sans", sans-serif' font-size="24" fill="#131722" textLength="64.34" lengthAdjust="spacingAndGlyphs">USDT</text><text x="1995.80" y="137.73" font-family='"Liberation Sans", sans-serif' font-size="25" fill="#131722" textLength="111.88" lengthAdjust="spacingAndGlyphs">25000.00</text><text x="1995.80" y="230.60" font-family='"Liberation Sans", sans-serif' font-size="25" fill="#131722" textLength="111.88" lengthAdjust="spacingAndGlyphs">24000.00</text><text x="1995.80" y="327.29" font-family='"Liberation Sans", sans-serif' font-size="25" fill="#131722" textLength="111.88" lengthAdjust="spacingAndGlyphs">23000.00</text><text x="1995.80" y="407.25" font-family='"Liberation Sans", sans-serif' font-size="25" fill="#131722" textLength="111.88" lengthAdjust="spacingAndGlyphs">22200.00</text><text x="1995.80" y="491.07" font-family='"Liberation Sans", sans-serif' font-size="25" fill="#131722" textLength="111.88" lengthAdjust="spacingAndGlyphs">21400.00</text><text x="1995.80" y="577.40" font-family='"Liberation Sans", sans-serif' font-size="25" fill="#131722" textLength="111.88" lengthAdjust="spacingAndGlyphs">20600.00</text><text x="1994.80" y="660.84" font-family='"Liberation Sans", sans-serif' font-size="25" fill="#131722" textLength="112.88" lengthAdjust="spacingAndGlyphs">19850.00</text><text x="1994.80" y="730.76" font-family='"Liberation Sans", sans-serif' font-size="25" fill="#131722" textLength="112.88" lengthAdjust="spacingAndGlyphs">19250.00</text><text x="1994.80" y="802.29" font-family='"Liberation Sans", sans-serif' font-size="25" fill="#131722" textLength="112.88" lengthAdjust="spacingAndGlyphs">18650.00</text><text x="1994.80" y="864.26" font-family='"Liberation Sans", sans-serif' font-size="25" fill="#131722" textLength="112.88" lengthAdjust="spacingAndGlyphs">18150.00</text><text x="1994.80" y="927.41" font-family='"Liberation Sans", sans-serif' font-size="25" fill="#131722" textLength="112.88" lengthAdjust="spacingAndGlyphs">17650.00</text><text x="1994.80" y="990.08" font-family='"Liberation Sans", sans-serif' font-size="25" fill="#131722" textLength="112.88" lengthAdjust="spacingAndGlyphs">17170.00</text><text x="1995.80" y="172.20" font-family='"Liberation Sans", sans-serif' font-size="25" fill="#ffffff" textLength="109.08" lengthAdjust="spacingAndGlyphs">24618.51</text><text x="1994.80" y="200.40" font-family='"Liberation Sans", sans-serif' font-size="25" fill="#d1d4dc" textLength="104.93" lengthAdjust="spacingAndGlyphs">01:23:50</text><text x="1995.20" y="1090.80" font-family='"Liberation Sans", sans-serif' font-size="25" fill="#131722" textLength="67.34" lengthAdjust="spacingAndGlyphs">80.00</text><text x="1994.20" y="1167.00" font-family='"Liberation Sans", sans-serif' font-size="25" fill="#131722" textLength="68.34" lengthAdjust="spacingAndGlyphs">60.00</text><text x="1995.20" y="1245.30" font-family='"Liberation Sans", sans-serif' font-size="25" fill="#131722" textLength="67.34" lengthAdjust="spacingAndGlyphs">40.00</text><text x="1995.20" y="1322.00" font-family='"Liberation Sans", sans-serif' font-size="25" fill="#131722" textLength="67.34" lengthAdjust="spacingAndGlyphs">20.00</text><text x="67.80" y="1378.80" font-family='"Liberation Sans", sans-serif' font-size="25" font-weight="bold" fill="#131722" textLength="64.80" lengthAdjust="spacingAndGlyphs">2023</text><text x="362.80" y="1378.80" font-family='"Liberation Sans", sans-serif' font-size="25" fill="#131722" textLength="16.11" lengthAdjust="spacingAndGlyphs">9</text><text x="593.50" y="1378.80" font-family='"Liberation Sans", sans-serif' font-size="25" fill="#131722" textLength="29.81" lengthAdjust="spacingAndGlyphs">16</text><text x="830.60" y="1378.80" font-family='"Liberation Sans", sans-serif' font-size="25" fill="#131722" textLength="30.41" lengthAdjust="spacingAndGlyphs">23</text><text x="1124.70" y="1378.80" font-family='"Liberation Sans", sans-serif' font-size="25" fill="#131722" textLength="51.40" lengthAdjust="spacingAndGlyphs">Févr</text><text x="1312.00" y="1378.80" font-family='"Liberation Sans", sans-serif' font-size="25" fill="#131722" textLength="16.31" lengthAdjust="spacingAndGlyphs">6</text><text x="1543.20" y="1378.80" font-family='"Liberation Sans", sans-serif' font-size="25" fill="#131722" textLength="30.41" lengthAdjust="spacingAndGlyphs">13</text><text x="1780.10" y="1378.80" font-family='"Liberation Sans", sans-serif' font-size="25" fill="#131722" textLength="30.21" lengthAdjust="spacingAndGlyphs">20</text><polyline points="2065,17 2070,21.5 2075,17" fill="none" stroke="#131722" stroke-width="2.2"/><circle cx="2054" cy="1368.7" r="9" fill="none" stroke="#131722" stroke-width="2"/><path d="M2063.50,1368.70L2068.50,1368.70M2060.72,1375.42L2064.25,1378.95M2054.00,1378.20L2054.00,1383.20M2047.28,1375.42L2043.75,1378.95M2044.50,1368.70L2039.50,1368.70M2047.28,1361.98L2043.75,1358.45M2054.00,1359.20L2054.00,1354.20M2060.72,1361.98L2064.25,1358.45" stroke="#131722" stroke-width="2"/></svg></body></html>
